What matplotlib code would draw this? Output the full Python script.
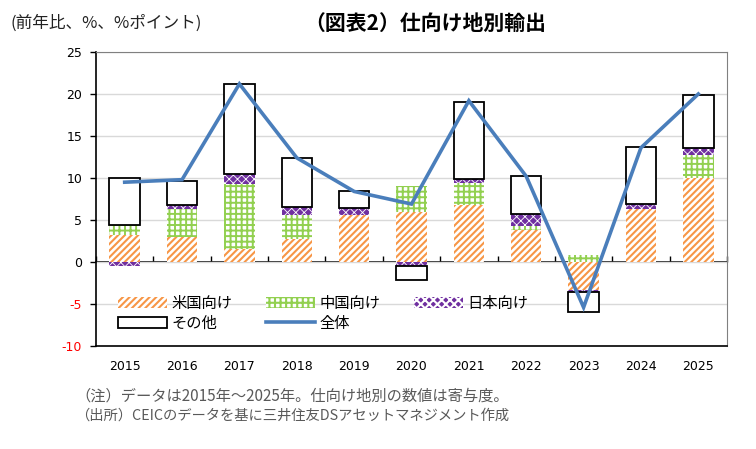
import matplotlib
matplotlib.use("Agg")
import matplotlib.pyplot as plt
import numpy as np
from matplotlib.patches import Patch
from matplotlib.lines import Line2D

plt.rcParams['font.family'] = ['Noto Sans CJK JP', 'DejaVu Sans']
plt.rcParams['hatch.linewidth'] = 1.5

years = ['2015', '2016', '2017', '2018', '2019', '2020', '2021', '2022', '2023', '2024', '2025']
us = [3.2, 3.0, 1.6, 2.7, 5.6, 6.0, 6.75, 3.8, -3.3, 6.35, 10.0]
china = [1.2, 3.35, 7.7, 2.9, 0.0, 3.0, 2.6, 0.5, 0.8, 0.0, 2.75]
japan = [-0.5, 0.45, 1.2, 1.0, 0.8, -0.5, 0.5, 1.4, -0.3, 0.5, 0.85]
other = [5.6, 2.9, 10.7, 5.8, 2.0, -1.6, 9.25, 4.5, -2.4, 6.8, 6.25]
total = [9.5, 9.8, 21.2, 12.4, 8.4, 6.9, 19.2, 10.2, -5.4, 13.6, 20.0]
yticks = [-10, -5, 0, 5, 10, 15, 20, 25]

series = [us, china, japan, other]
styles = [
    dict(facecolor='white', edgecolor='#f79646', hatch='/////', linewidth=0),
    dict(facecolor='white', edgecolor='#92d050', hatch='+++', linewidth=0),
    dict(facecolor='#7030a0', edgecolor='white', hatch='xxxx', linewidth=0),
    dict(facecolor='white', edgecolor='black', hatch=None, linewidth=1.3),
]
hatch_lw = [1.5, 1.4, 0.6, 1.0]


def set_hlw(p, lw):
    if hasattr(p, 'set_hatch_linewidth'):
        p.set_hatch_linewidth(lw)


fig = plt.figure(figsize=(7.56, 4.49), dpi=100)
ax = fig.add_axes([96/756, 1-346/449, 631/756, 294/449])

x = np.arange(len(years))
w = 0.53
pos_base = np.zeros(len(years))
neg_base = np.zeros(len(years))
for vals, st, hl in zip(series, styles, hatch_lw):
    v = np.array(vals, dtype=float)
    bottoms = np.where(v >= 0, pos_base, neg_base)
    bars = ax.bar(x, v, w, bottom=bottoms, zorder=3, **st)
    for b in bars:
        set_hlw(b, hl)
    pos_base = pos_base + np.where(v >= 0, v, 0)
    neg_base = neg_base + np.where(v < 0, v, 0)

ax.plot(x, total, color='#4a7ebb', linewidth=2.6, zorder=4, solid_joinstyle='miter')

ax.set_xlim(-0.5, len(years) - 0.5)
ax.set_ylim(-10, 25)
ax.set_yticks(yticks)
ax.set_yticklabels([str(t) for t in yticks], family='DejaVu Sans', fontsize=9)
for lbl, t in zip(ax.get_yticklabels(), yticks):
    if t < 0:
        lbl.set_color('red')
ax.tick_params(axis='y', direction='out', length=4, width=1, pad=6)
ax.set_xticks(x)
ax.set_xticklabels(years, family='DejaVu Sans', fontsize=9)
ax.tick_params(axis='x', length=0, pad=10)
ax.grid(axis='y', color='#d9d9d9', linewidth=1, zorder=0)
for s in ['top', 'right']:
    ax.spines[s].set_color('#808080')
for s in ['left', 'bottom']:
    ax.spines[s].set_color('black')
    ax.spines[s].set_linewidth(1.2)

# zero axis with category boundary ticks
sec = ax.secondary_xaxis(10/35)
sec.set_xticks(np.arange(len(years) + 1) - 0.5)
sec.tick_params(direction='in', length=4, width=1, labelbottom=False, labeltop=False)
sec.spines['bottom'].set_linewidth(1.2)
sec.spines['bottom'].set_color('black')

handles = [
    Patch(**styles[0], label='米国向け'),
    Patch(**styles[3], label='その他'),
    Patch(**styles[1], label='中国向け'),
    Line2D([], [], color='#4a7ebb', linewidth=2.6, label='全体'),
    Patch(**styles[2], label='日本向け'),
]
for hnd, hl in zip([handles[0], handles[1], handles[2], handles[4]], [1.5, 1.0, 1.4, 0.6]):
    set_hlw(hnd, hl)
leg = ax.legend(handles=handles, ncol=3, loc='upper left', bbox_to_anchor=(0.025, 0.195),
                frameon=False, fontsize=11, handlelength=3.2, handleheight=0.7,
                handletextpad=0.3, columnspacing=2.2, labelspacing=0.2, borderaxespad=0)

fig.text(10/756, 1-23/449, '(前年比、%、%ポイント)', fontsize=12, va='center', ha='left', color='#222222')
fig.text(425/756, 1-23/449, '（図表2）仕向け地別輸出', fontsize=15, fontweight='bold', va='center', ha='center')
fig.text(75/756, 1-396/449, '（注）データは2015年～2025年。仕向け地別の数値は寄与度。', fontsize=11, va='center', ha='left', color='#595959')
fig.text(75/756, 1-416/449, '（出所）CEICのデータを基に三井住友DSアセットマネジメント作成', fontsize=10.3, va='center', ha='left', color='#595959')

fig.savefig('out.png', dpi=100)
